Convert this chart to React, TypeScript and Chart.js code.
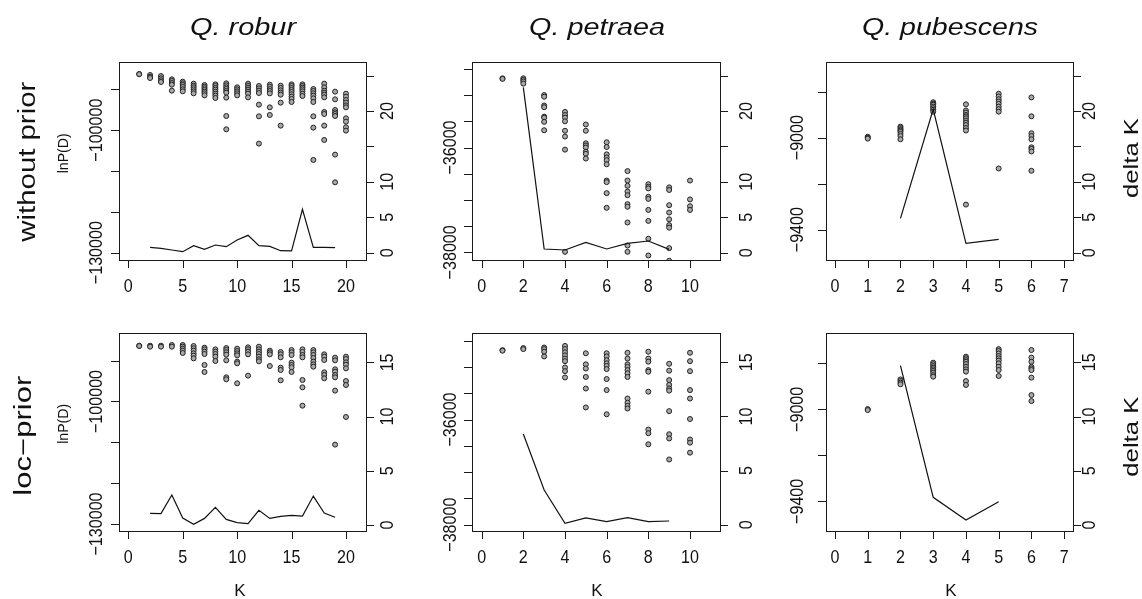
import React, { useEffect, useRef } from 'react';
import { Chart, registerables } from 'chart.js';
Chart.register(...registerables);

const W = 1142;
const H = 599;
const FONT = '"Liberation Sans", Arial, Helvetica, sans-serif';

// ---------- DATA (lnP(D) per K, index 0 = K1; delta K starts at K2) ----------
const kRobur = [1, 2, 3, 4, 5, 6, 7, 8, 9, 10, 11, 12, 13, 14, 15, 16, 17, 18, 19, 20];
const kPetraea = [1, 2, 3, 4, 5, 6, 7, 8, 9, 10];
const kPubescens = [1, 2, 3, 4, 5, 6];

const roburNoPriorLnP: number[][] = [
  [-86250, -86300],
  [-86490, -86900, -87230],
  [-86740, -87310, -87800, -88200],
  [-87550, -87960, -88450, -88860, -90330],
  [-88120, -88530, -88940, -89430, -90000, -90490],
  [-88610, -89100, -89510, -90000, -90490, -90980],
  [-88940, -89350, -89760, -90160, -90570, -90980, -91470],
  [-88780, -89180, -89670, -90080, -90570, -91060, -91550, -92120],
  [-88530, -89020, -89510, -89920, -90410, -90820, -92040, -96530, -99790],
  [-89510, -90000, -90490, -90980, -91470],
  [-88610, -89100, -89590, -90080, -90570, -91060, -91960],
  [-89180, -89760, -90330, -90900, -93750, -96610, -103300],
  [-88860, -89350, -89920, -90410, -90980, -94410, -96280],
  [-89100, -89670, -90250, -90820, -91310, -93260, -98890],
  [-88780, -89180, -89670, -90160, -90650, -91220, -91800, -92370, -93100],
  [-88780, -89180, -89590, -90000, -90490, -91060, -91630],
  [-89920, -90410, -90980, -91550, -92200, -93100, -96610, -99380, -107300],
  [-88610, -89510, -90330, -90820, -91310, -91960, -95550, -96040, -98890, -102400],
  [-90570, -92450, -95060, -95630, -96040, -96530, -105990, -112770],
  [-91060, -91800, -92610, -93260, -93920, -94410, -97100, -97920, -99300, -100120],
];
const roburNoPriorDeltaK = [0.75, 0.61, 0.38, 0.14, 0.99, 0.47, 1.08, 0.85, 1.79, 2.45, 0.99, 0.89, 0.28, 0.24, 6.12, 0.75, 0.75, 0.71];

const petraeaNoPriorLnP: number[][] = [
  [-34680, -34690],
  [-34680, -34710, -34740, -34780],
  [-35000, -35030, -35200, -35230, -35410, -35430, -35510, -35670],
  [-35320, -35380, -35430, -35500, -35680, -35790, -36040, -37990],
  [-35560, -35680, -35920, -35960, -36000, -36080, -36120, -36210],
  [-35900, -35990, -36130, -36190, -36240, -36320, -36630, -36660, -36870, -37150],
  [-36450, -36630, -36730, -36840, -36910, -37080, -37130, -37430, -37870, -37990],
  [-36700, -36750, -36780, -36940, -36980, -37190, -37400, -37740, -38060],
  [-36760, -36810, -37100, -37240, -37370, -37480, -37530, -37920, -38160],
  [-36630, -36990, -37120, -37190],
];
const petraeaNoPriorDeltaK = [23.35, 0.52, 0.38, 1.46, 0.52, 1.32, 1.65, 0.47];

const pubescensNoPriorLnP: number[][] = [
  [-8996, -9000, -9004],
  [-8952, -8958, -8964, -8969, -8975, -8984, -8993, -9007],
  [-8846, -8852, -8857, -8865, -8872, -8879, -8887],
  [-8855, -8882, -8891, -8901, -8908, -8916, -8926, -8935, -8945, -8958, -8969, -9291],
  [-8809, -8821, -8833, -8843, -8853, -8865, -8876, -8887, -9134],
  [-8825, -8907, -8981, -8993, -9007, -9042, -9049, -9060, -9144],
];
const pubescensNoPriorDeltaK = [4.85, 20.24, 1.32, 1.88];

const roburLocPriorLnP: number[][] = [
  [-86330, -86410],
  [-86330, -86570],
  [-86330, -86570],
  [-86160, -86570],
  [-86160, -86570, -87060, -87550, -88120],
  [-86410, -86980, -87550, -88200, -88780, -89430],
  [-86820, -87230, -87800, -88370, -91060, -92770],
  [-87230, -87800, -88370, -89020, -90080],
  [-86900, -87390, -87960, -88530, -89920, -94080, -94570],
  [-87060, -87630, -88200, -88690, -90240, -90650, -95550],
  [-86740, -87230, -87800, -88450, -93670],
  [-86570, -87230, -87800, -88370, -89020, -89670, -90160],
  [-87550, -87960, -88450, -91310],
  [-87880, -88450, -89180, -91710, -92280, -94810],
  [-87390, -87960, -88610, -90490, -91060, -91630, -92770],
  [-87230, -87880, -88610, -89180, -94730, -96530, -101020],
  [-87390, -87960, -88610, -89350, -90240, -90900, -91470],
  [-88450, -89020, -89840, -92860, -93510, -94320],
  [-89270, -89920, -92120, -92690, -93510, -94080, -97340, -110560],
  [-89020, -89590, -90410, -90980, -91880, -94980, -95960, -103790],
];
const roburLocPriorDeltaK = [1.08, 1.05, 2.77, 0.65, 0.06, 0.61, 1.63, 0.52, 0.22, 0.12, 1.35, 0.61, 0.8, 0.89, 0.83, 2.67, 1.11, 0.71];

const petraeaLocPriorLnP: number[][] = [
  [-34680, -34690],
  [-34640, -34660],
  [-34630, -34660, -34710, -34800],
  [-34600, -34660, -34720, -34780, -34840, -34890, -35010, -35080, -35200],
  [-34740, -34950, -35030, -35190, -35410, -35770],
  [-34740, -34800, -34870, -34930, -34980, -35040, -35230, -35440, -35900],
  [-34730, -34840, -34950, -35000, -35060, -35120, -35190, -35600, -35680, -35740, -35790],
  [-34710, -34840, -34900, -35060, -35090, -35470, -36190, -36260, -36470],
  [-34940, -35070, -35250, -35340, -35410, -35450, -35840, -36280, -36360, -36760],
  [-34730, -34890, -35080, -35440, -35600, -35990, -36380, -36440, -36630],
];
const petraeaLocPriorDeltaK = [8.38, 3.2, 0.12, 0.62, 0.28, 0.65, 0.28, 0.34];

const pubescensLocPriorLnP: number[][] = [
  [-8999, -9003],
  [-8870, -8877, -8884, -8891],
  [-8797, -8804, -8812, -8819, -8826, -8833, -8841, -8851, -8858],
  [-8771, -8778, -8786, -8793, -8803, -8815, -8826, -8836, -8877, -8894],
  [-8738, -8746, -8757, -8768, -8778, -8788, -8800, -8815, -8829, -8855],
  [-8742, -8775, -8793, -8815, -8822, -8829, -8862, -8938, -8964],
];
const pubescensLocPriorDeltaK = [14.69, 2.55, 0.46, 2.15];

// tick values
const roburXTicks = [0, 5, 10, 15, 20];
const petraeaXTicks = [0, 2, 4, 6, 8, 10];
const pubescensXTicks = [0, 1, 2, 3, 4, 5, 6, 7];
const roburYTicks = [-130000, -120000, -110000, -100000, -90000];
const roburYLabels = [-100000, -130000];
const petraeaYTicks = [-38000, -37500, -37000, -36500, -36000, -35500, -35000, -34500];
const petraeaYLabels = [-36000, -38000];
const pubescensYTicks = [-9400, -9200, -9000, -8800];
const pubescensYLabels = [-9000, -9400];
const deltaTopTicks = [0, 5, 10, 15, 20, 25];
const deltaTopLabels = [0, 5, 10, 20];
const deltaBottomTicks = [0, 5, 10, 15];
const deltaBottomLabels = [0, 5, 10, 15];

const titles = ['Q. robur', 'Q. petraea', 'Q. pubescens'];
const rowLabels = ['without prior', 'loc\u2212prior'];

// ---------- LAYOUT ----------
type Txt = { s: string; x: number; y: number; size: number; italic?: boolean; rot?: boolean; width?: number; sx?: number };

type Panel = {
  ks: number[];
  lnp: number[][];
  dk: number[];
  box: [number, number, number, number];
  xr: [number, number];
  yr: [number, number];
  y2r: [number, number];
  xTicks: number[];
  yTicks: number[];
  yLabels: number[];
  y2Ticks: number[];
  y2Labels: number[];
  leftBase: number;
  rightBase: number;
  xBase: number;
  extras: Txt[];
};

const TOP = [62, 260];
const BOT = [333, 531];
const COLS = [[119, 366], [472, 720], [826, 1073]];

const panels: Panel[] = [
  {
    ks: kRobur, lnp: roburNoPriorLnP, dk: roburNoPriorDeltaK,
    box: [COLS[0][0], TOP[0], COLS[0][1], TOP[1]],
    xr: [-0.857, 21.84], yr: [-131800, -83306], y2r: [-1.035, 26.93],
    xTicks: roburXTicks, yTicks: roburYTicks, yLabels: roburYLabels, y2Ticks: deltaTopTicks, y2Labels: deltaTopLabels,
    leftBase: 101.7, rightBase: 393.4, xBase: 291.7,
    extras: [
      { s: titles[0], x: 243, y: 35, size: 24.5, italic: true, width: 106 },
      { s: rowLabels[0], x: 35, y: 161.7, size: 23, rot: true, width: 160 },
      { s: 'lnP(D)', x: 68, y: 153.3, size: 14, rot: true, width: 40 },
    ],
  },
  {
    ks: kPetraea, lnp: petraeaNoPriorLnP, dk: petraeaNoPriorDeltaK,
    box: [COLS[1][0], TOP[0], COLS[1][1], TOP[1]],
    xr: [-0.464, 11.44], yr: [-38146, -34368], y2r: [-1.035, 26.93],
    xTicks: petraeaXTicks, yTicks: petraeaYTicks, yLabels: petraeaYLabels, y2Ticks: deltaTopTicks, y2Labels: deltaTopLabels,
    leftBase: 455.7, rightBase: 751.7, xBase: 291.7,
    extras: [{ s: titles[1], x: 597, y: 35, size: 24.5, italic: true, width: 136 }],
  },
  {
    ks: kPubescens, lnp: pubescensNoPriorLnP, dk: pubescensNoPriorDeltaK,
    box: [COLS[2][0], TOP[0], COLS[2][1], TOP[1]],
    xr: [-0.275, 7.27], yr: [-9532, -8671], y2r: [-1.035, 26.93],
    xTicks: pubescensXTicks, yTicks: pubescensYTicks, yLabels: pubescensYLabels, y2Ticks: deltaTopTicks, y2Labels: deltaTopLabels,
    leftBase: 802.7, rightBase: 1095, xBase: 291.7,
    extras: [
      { s: titles[2], x: 950, y: 35, size: 24.5, italic: true, width: 176 },
      { s: 'delta K', x: 1138.3, y: 158, size: 21, rot: true, width: 80 },
    ],
  },
  {
    ks: kRobur, lnp: roburLocPriorLnP, dk: roburLocPriorDeltaK,
    box: [COLS[0][0], BOT[0], COLS[0][1], BOT[1]],
    xr: [-0.857, 21.84], yr: [-131717, -83224], y2r: [-0.553, 17.71],
    xTicks: roburXTicks, yTicks: roburYTicks, yLabels: roburYLabels, y2Ticks: deltaBottomTicks, y2Labels: deltaBottomLabels,
    leftBase: 101.7, rightBase: 393.4, xBase: 563.3,
    extras: [
      { s: rowLabels[1], x: 31, y: 435.7, size: 23, rot: true, width: 120 },
      { s: 'lnP(D)', x: 68, y: 423.8, size: 14, rot: true, width: 40 },
      { s: 'K', x: 240, y: 596, size: 17 },
    ],
  },
  {
    ks: kPetraea, lnp: petraeaLocPriorLnP, dk: petraeaLocPriorDeltaK,
    box: [COLS[1][0], BOT[0], COLS[1][1], BOT[1]],
    xr: [-0.464, 11.44], yr: [-38120, -34354], y2r: [-0.585, 17.71],
    xTicks: petraeaXTicks, yTicks: petraeaYTicks, yLabels: petraeaYLabels, y2Ticks: deltaBottomTicks, y2Labels: deltaBottomLabels,
    leftBase: 455.7, rightBase: 751.7, xBase: 563.3,
    extras: [{ s: 'K', x: 597, y: 596, size: 17 }],
  },
  {
    ks: kPubescens, lnp: pubescensLocPriorLnP, dk: pubescensLocPriorDeltaK,
    box: [COLS[2][0], BOT[0], COLS[2][1], BOT[1]],
    xr: [-0.275, 7.27], yr: [-9529, -8668], y2r: [-0.553, 17.7],
    xTicks: pubescensXTicks, yTicks: pubescensYTicks, yLabels: pubescensYLabels, y2Ticks: deltaBottomTicks, y2Labels: deltaBottomLabels,
    leftBase: 802.7, rightBase: 1095, xBase: 563.3,
    extras: [
      { s: 'K', x: 951, y: 596, size: 17 },
      { s: 'delta K', x: 1138.3, y: 436.7, size: 21, rot: true, width: 80 },
    ],
  },
];

const fmt = (v: number) => (v < 0 ? '\u2212' + String(Math.abs(v)) : String(v));

function drawTxt(ctx: CanvasRenderingContext2D, t: Txt) {
  ctx.save();
  ctx.font = `${t.italic ? 'italic ' : ''}${t.size}px ${FONT}`;
  ctx.fillStyle = '#111';
  ctx.textAlign = 'center';
  ctx.textBaseline = 'alphabetic';
  ctx.translate(t.x, t.y);
  if (t.rot) ctx.rotate(-Math.PI / 2);
  let sx = t.sx || 1;
  if (t.width) sx = t.width / ctx.measureText(t.s).width;
  ctx.scale(sx, 1);
  ctx.fillText(t.s, 0, 0);
  ctx.restore();
}

const TICK = 8;
const TICK_FONT = 18.5;
const TICK_SX = 0.87;

function axesPlugin(p: Panel) {
  return {
    id: 'rAxes',
    afterDraw(chart: any) {
      const ctx: CanvasRenderingContext2D = chart.ctx;
      const { left, top, right, bottom } = chart.chartArea;
      const xs = chart.scales.x;
      const ys = chart.scales.y;
      const y2s = chart.scales.y2;
      ctx.save();
      ctx.strokeStyle = '#1a1a1a';
      ctx.lineWidth = 1;
      ctx.strokeRect(Math.round(left) + 0.5, Math.round(top) + 0.5, Math.round(right - left), Math.round(bottom - top));
      ctx.beginPath();
      p.xTicks.forEach((v) => {
        const x = Math.round(xs.getPixelForValue(v)) + 0.5;
        ctx.moveTo(x, bottom);
        ctx.lineTo(x, bottom + TICK);
      });
      p.yTicks.forEach((v) => {
        const y = Math.round(ys.getPixelForValue(v)) + 0.5;
        ctx.moveTo(left, y);
        ctx.lineTo(left - TICK, y);
      });
      p.y2Ticks.forEach((v) => {
        const y = Math.round(y2s.getPixelForValue(v)) + 0.5;
        ctx.moveTo(right, y);
        ctx.lineTo(right + TICK, y);
      });
      ctx.stroke();
      ctx.restore();

      p.xTicks.forEach((v) =>
        drawTxt(ctx, { s: fmt(v), x: xs.getPixelForValue(v), y: p.xBase, size: TICK_FONT, sx: TICK_SX })
      );
      p.yLabels.forEach((v) =>
        drawTxt(ctx, { s: fmt(v), x: p.leftBase, y: ys.getPixelForValue(v), size: TICK_FONT, sx: TICK_SX, rot: true })
      );
      p.y2Labels.forEach((v) =>
        drawTxt(ctx, { s: fmt(v), x: p.rightBase, y: y2s.getPixelForValue(v), size: TICK_FONT, sx: TICK_SX, rot: true })
      );
      p.extras.forEach((t) => drawTxt(ctx, t));
    },
  };
}

function PanelChart({ p }: { p: Panel }) {
  const ref = useRef<HTMLCanvasElement | null>(null);
  useEffect(() => {
    if (!ref.current) return;
    const pts: { x: number; y: number }[] = [];
    p.lnp.forEach((vals, i) => vals.forEach((v) => pts.push({ x: p.ks[i], y: v })));
    const line = p.dk.map((v, i) => ({ x: p.ks[i + 1], y: v }));
    const [l, t, r, b] = p.box;
    const chart = new Chart(ref.current, {
      type: 'scatter',
      data: {
        datasets: [
          {
            type: 'line',
            data: line,
            xAxisID: 'x',
            yAxisID: 'y2',
            borderColor: '#111',
            borderWidth: 1.2,
            pointRadius: 0,
            fill: false,
            tension: 0,
            clip: 0,
            order: 0,
          } as any,
          {
            type: 'scatter',
            data: pts,
            xAxisID: 'x',
            yAxisID: 'y',
            pointRadius: 2.5,
            pointBackgroundColor: '#a8a8a8',
            pointBorderColor: '#222',
            pointBorderWidth: 1,
            clip: 0,
            order: 1,
          } as any,
        ],
      },
      options: {
        animation: false,
        responsive: false,
        events: [],
        layout: { padding: { left: l, top: t, right: W - r, bottom: H - b } },
        plugins: { legend: { display: false }, tooltip: { enabled: false }, title: { display: false } },
        scales: {
          x: { type: 'linear', display: false, min: p.xr[0], max: p.xr[1] },
          y: { type: 'linear', display: false, min: p.yr[0], max: p.yr[1] },
          y2: { type: 'linear', display: false, position: 'right', min: p.y2r[0], max: p.y2r[1] },
        },
      } as any,
      plugins: [axesPlugin(p)],
    });
    return () => chart.destroy();
  }, [p]);
  return (
    <canvas
      ref={ref}
      width={W}
      height={H}
      style={{ position: 'absolute', left: 0, top: 0, width: W, height: H }}
    />
  );
}

export default function App() {
  return (
    <div style={{ position: 'absolute', left: 0, top: 0, width: W, height: H, background: '#fff' }}>
      {panels.map((p, i) => (
        <PanelChart key={i} p={p} />
      ))}
    </div>
  );
}
